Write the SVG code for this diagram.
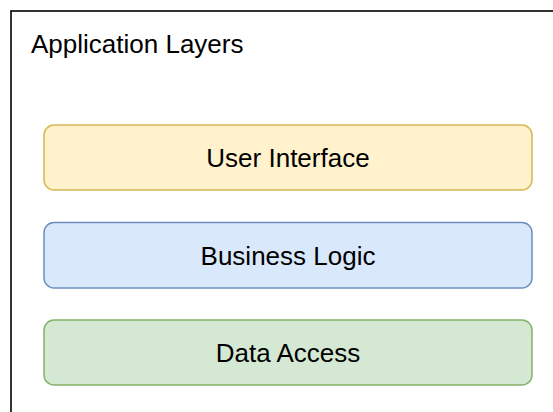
<svg xmlns="http://www.w3.org/2000/svg" width="553" height="412" viewBox="0 0 553 412">
<style>
text{font-family:"Liberation Sans",Arial,sans-serif;font-size:26px;fill:#000}
.layer{stroke-width:1.5}
.lbl{text-anchor:middle}
</style>
<rect width="553" height="412" fill="#fff"/>
<g id="container">
<rect x="11" y="11" width="600" height="500" fill="#fff" stroke="#000" stroke-width="1.6"/>
<text x="31" y="53">Application Layers</text>
</g>
<g id="connectors"></g>
<g id="user-interface">
<rect class="layer" x="44" y="125" width="488" height="65" rx="10" fill="#fff2cc" stroke="#d6b656"/>
<text class="lbl" x="288" y="167">User Interface</text>
</g>
<g id="business-logic">
<rect class="layer" x="44" y="222.5" width="488" height="65.5" rx="10" fill="#dae8fc" stroke="#6c8ebf"/>
<text class="lbl" x="288" y="264.5">Business Logic</text>
</g>
<g id="data-access">
<rect class="layer" x="44" y="320" width="488" height="65" rx="10" fill="#d5e8d4" stroke="#82b366"/>
<text class="lbl" x="288" y="362">Data Access</text>
</g>
</svg>
